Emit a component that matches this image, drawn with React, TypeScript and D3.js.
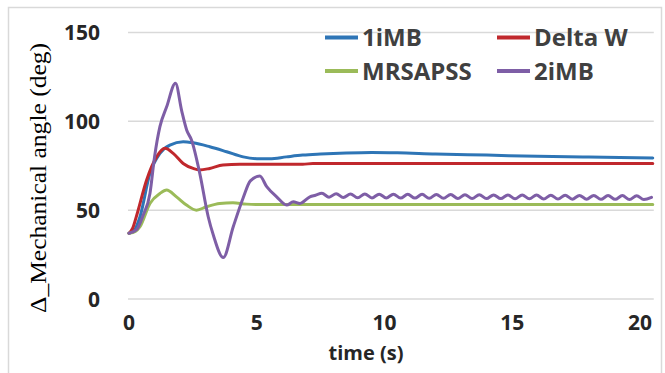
import React from "react";
import * as d3 from "d3";

const seriesNames = ["1iMB", "Delta W", "MRSAPSS", "2iMB"];
const seriesColors = ["#2e75b6", "#c0282d", "#9bbb59", "#7e5ea6"];

const xTicks = [0, 5, 10, 15, 20];
const yTicks = [0, 50, 100, 150];

const blueT = [0, 0.2, 0.43, 0.82, 1.21, 1.6, 2.12, 2.51, 3.16, 3.82, 4.47, 5.12, 5.51, 6.16, 6.8, 7.5, 8.5, 9.5, 10.5, 12, 14, 16, 18, 20.5];
const blueV = [37, 38.5, 46.3, 70.7, 82, 86.6, 88.5, 87.9, 85.7, 82.9, 80, 78.9, 78.9, 80, 81, 81.6, 82.2, 82.5, 82.3, 81.6, 81, 80.3, 79.9, 79.4];

const redT = [0, 0.15, 0.3, 0.69, 1.08, 1.41, 1.73, 2.12, 2.51, 2.77, 3.16, 3.68, 4.34, 5.5, 6.8, 7.2, 20.5];
const redV = [37, 40, 47, 67, 80, 84.8, 82, 76.3, 73.5, 72.6, 73.5, 75.4, 75.8, 75.8, 75.8, 76.3, 76.3];

const greenT = [0, 0.25, 0.43, 0.82, 1.21, 1.47, 1.86, 2.25, 2.64, 3.03, 3.55, 4.07, 4.6, 5.2, 20.5];
const greenV = [37, 38, 40.7, 53.8, 59.4, 61.3, 57.5, 52.9, 50, 51.9, 53.8, 54.2, 53.4, 53.2, 53.2];

const purpleT = [
  0, 0.3, 0.55, 0.82, 1.0, 1.21, 1.47, 1.82, 2.06, 2.26, 2.45, 2.77, 3.1, 3.3, 3.69, 4.08, 4.47, 4.75, 5.12, 5.39, 5.78, 6.17, 6.43, 6.69, 7.08, 7.3,
  7.55, 7.83, 8.11, 8.39, 8.67, 8.95, 9.23, 9.51, 9.79, 10.07, 10.35, 10.63, 10.91, 11.19, 11.47, 11.75, 12.03, 12.31, 12.59, 12.87, 13.15, 13.43,
  13.71, 13.99, 14.27, 14.55, 14.83, 15.11, 15.39, 15.67, 15.95, 16.23, 16.51, 16.79, 17.07, 17.35, 17.63, 17.91, 18.19, 18.47, 18.75, 19.03,
  19.31, 19.59, 19.87, 20.15, 20.45,
];
const purpleV = [
  37, 39, 47, 59.4, 80, 97, 108, 121.5, 106, 95, 89.4, 70.7, 46.3, 36, 23.3, 40.7, 57, 66.5, 69.2, 63.2, 57.5, 52.9, 54.7, 53.8, 57.5, 58.4,
  59.5, 57.3, 59.3, 57.1, 59.1, 57.0, 59.1, 56.9, 59.0, 56.9, 59.0, 56.8, 58.9, 56.8, 58.9, 56.7, 58.8, 56.7, 58.8, 56.6, 58.7, 56.6,
  58.7, 56.5, 58.6, 56.5, 58.6, 56.4, 58.5, 56.4, 58.5, 56.3, 58.4, 56.3, 58.4, 56.2, 58.3, 56.2, 58.3, 56.1, 58.2, 56.1,
  58.2, 56.0, 58.1, 56.0, 57.2,
];

const seriesT = [blueT, redT, greenT, purpleT];
const seriesV = [blueV, redV, greenV, purpleV];

export default function App() {
  const W = 665;
  const H = 373;
  const x = d3.scaleLinear().domain([0, 20]).range([129, 640]);
  const y = d3.scaleLinear().domain([0, 150]).range([299, 32.5]);
  const xEnd = 20.5;
  const line = d3
    .line<[number, number]>()
    .x((d) => x(d[0]))
    .y((d) => y(d[1]))
    .curve(d3.curveMonotoneX);

  const tickFont = "'Open Sans', sans-serif";
  const legendRows = [
    { i: 0, lx: 325, ly: 37.5 },
    { i: 1, lx: 497, ly: 37.5 },
    { i: 2, lx: 325, ly: 71 },
    { i: 3, lx: 497, ly: 71 },
  ];

  return (
    <div style={{ position: "fixed", left: 0, top: 0 }}>
      <svg width={W} height={H} style={{ display: "block" }}>
        <rect x={0} y={0} width={W} height={H} fill="#ffffff" />
        <rect x={8.5} y={7.5} width={653} height={390} fill="#ffffff" stroke="#d9d9d9" strokeWidth={1.5} />
        {yTicks.map((v) => (
          <line key={"g" + v} x1={x(0) - 1} x2={x(xEnd) + 1} y1={y(v)} y2={y(v)} stroke="#d9d9d9" strokeWidth={1.5} />
        ))}
        {yTicks.map((v) => (
          <text
            key={"yt" + v}
            x={100}
            y={y(v) + 7.5}
            textAnchor="end"
            fontFamily={tickFont}
            fontWeight="bold"
            fontSize={21}
            fill="#262626"
          >
            {v}
          </text>
        ))}
        {xTicks.map((t) => (
          <text
            key={"xt" + t}
            x={x(t)}
            y={330}
            textAnchor="middle"
            fontFamily={tickFont}
            fontWeight="bold"
            fontSize={21}
            fill="#262626"
          >
            {t}
          </text>
        ))}
        <text
          x={366}
          y={360}
          textAnchor="middle"
          fontFamily={tickFont}
          fontWeight="bold"
          fontSize={20}
          fill="#262626"
        >
          time (s)
        </text>
        <text
          transform="translate(46,178) rotate(-90)"
          textAnchor="middle"
          fontFamily="'Liberation Serif', 'Times New Roman', serif"
          fontSize={24}
          textLength={270}
          lengthAdjust="spacingAndGlyphs"
          fill="#000000"
        >
          Δ_Mechanical angle (deg)
        </text>
        {seriesT.map((ts, i) => (
          <path
            key={"s" + i}
            d={line(ts.map((t, k) => [t, seriesV[i][k]] as [number, number])) || ""}
            fill="none"
            stroke={seriesColors[i]}
            strokeWidth={3}
            strokeLinejoin="round"
            strokeLinecap="round"
          />
        ))}
        {legendRows.map((r) => (
          <g key={"l" + r.i}>
            <line x1={r.lx} x2={r.lx + 33} y1={r.ly} y2={r.ly} stroke={seriesColors[r.i]} strokeWidth={4} />
            <text
              x={r.lx + 37}
              y={r.ly + 8.5}
              fontFamily={tickFont}
              fontWeight="bold"
              fontSize={24}
              fill="#404040"
            >
              {seriesNames[r.i]}
            </text>
          </g>
        ))}
      </svg>
    </div>
  );
}
